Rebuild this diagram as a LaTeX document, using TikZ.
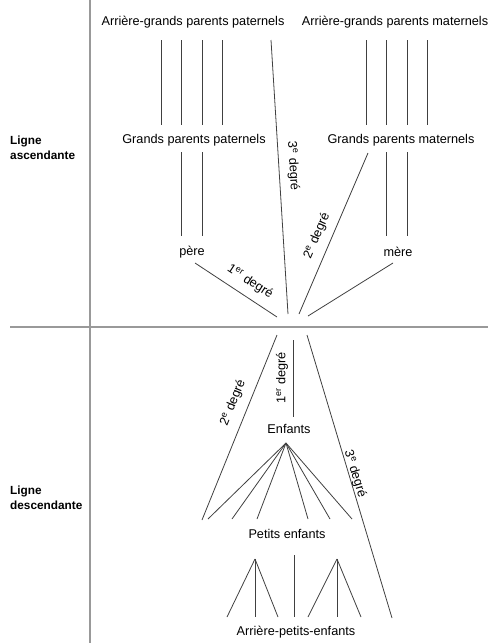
\documentclass[tikz,border=0pt]{standalone}
\usepackage{fontspec}
\setmainfont{Liberation Sans}

\begin{document}
\begin{tikzpicture}[
	x=1pt, y=-1pt,
	every node/.style={font=\fontsize{12.7}{15}\selectfont, inner sep=0pt},
	trait/.style={line width=0.8pt, black!75},
	axe/.style={line width=1.3pt, black!40},
	ligne/.style={font=\fontsize{11.8}{15}\selectfont\bfseries, align=left, anchor=west}
	]
\useasboundingbox (0,0) rectangle (488,643);

% axes
\coordinate (vhaut) at (90,0);
\coordinate (vbas) at (90,643);
\coordinate (hgauche) at (10,327);
\coordinate (hdroite) at (488,327);
\draw[axe] (vhaut) -- (vbas);
\draw[axe] (hgauche) -- (hdroite);

\node[ligne] at (10,148) (asc){Ligne\\ascendante};
\node[ligne] at (10,498) (desc){Ligne\\descendante};

% ligne ascendante
\node at (193,22) (agpp){Arrière-grands parents paternels};
\node at (395,22) (agpm){Arrière-grands parents maternels};
\node at (194,140) (gpp){Grands parents paternels};
\node at (401,140) (gpm){Grands parents maternels};
\node at (192,252) (pere){père};
\node at (398,252) (mere){mère};

\foreach \x/\n in {161/a, 181/b, 202/c, 222/d, 366/e, 386/f, 407/g, 427/h} {
	\coordinate (h\n) at (\x,40);
	\coordinate (b\n) at (\x,125);
	\draw[trait] (h\n) -- (b\n);
}
\foreach \x/\n in {181/a, 202/b, 386/c, 407/d} {
	\coordinate (gh\n) at (\x,152);
	\coordinate (gb\n) at (\x,236);
	\draw[trait] (gh\n) -- (gb\n);
}

\coordinate (p1) at (195,263);
\coordinate (p2) at (277,317);
\coordinate (m1) at (393,263);
\coordinate (m2) at (308,316);
\coordinate (t1) at (271,40);
\coordinate (t2) at (288,314);
\coordinate (d1) at (368,153);
\coordinate (d2) at (299,314);
\draw[trait] (p1) -- (p2);
\draw[trait] (m1) -- (m2);
\draw[trait] (t1) -- (t2);
\draw[trait] (d1) -- (d2);

\node[rotate=-33] at (250,282) (deg1h){1\textsuperscript{er} degré};
\node[rotate=67] at (317,236) (deg2h){2\textsuperscript{e} degré};
\node[rotate=-86.5] at (293,166) (deg3h){3\textsuperscript{e} degré};

% ligne descendante
\node at (289,429) (enf){Enfants};
\node at (287,534) (pe){Petits enfants};
\node at (296,632) (ape){Arrière-petits-enfants};

\coordinate (e1) at (293,340);
\coordinate (e2) at (293,417);
\coordinate (s1) at (277,335);
\coordinate (s2) at (202,520);
\coordinate (r1) at (307,335);
\coordinate (r2) at (392,618);
\draw[trait] (e1) -- (e2);
\draw[trait] (s1) -- (s2);
\draw[trait] (r1) -- (r2);

\node[rotate=90] at (282,378) (deg1b){1\textsuperscript{er} degré};
\node[rotate=68] at (233,403) (deg2b){2\textsuperscript{e} degré};
\node[rotate=-73] at (355,474) (deg3b){3\textsuperscript{e} degré};

\coordinate (fan) at (286,443);
\foreach \x/\n in {208/a, 232/b, 257/c, 308/d, 330/e, 352/f} {
	\coordinate (f\n) at (\x,519);
	\draw[trait] (fan) -- (f\n);
}

\coordinate (fg) at (255,559);
\coordinate (fd) at (337,559);
\foreach \x/\n in {227/a, 255/b, 278/c} {
	\coordinate (g\n) at (\x,617);
	\draw[trait] (fg) -- (g\n);
}
\foreach \x/\n in {308/a, 337/b, 361/c} {
	\coordinate (d\n) at (\x,617);
	\draw[trait] (fd) -- (d\n);
}
\coordinate (mh) at (294,555);
\coordinate (mb) at (294,617);
\draw[trait] (mh) -- (mb);

\end{tikzpicture}
\end{document}
